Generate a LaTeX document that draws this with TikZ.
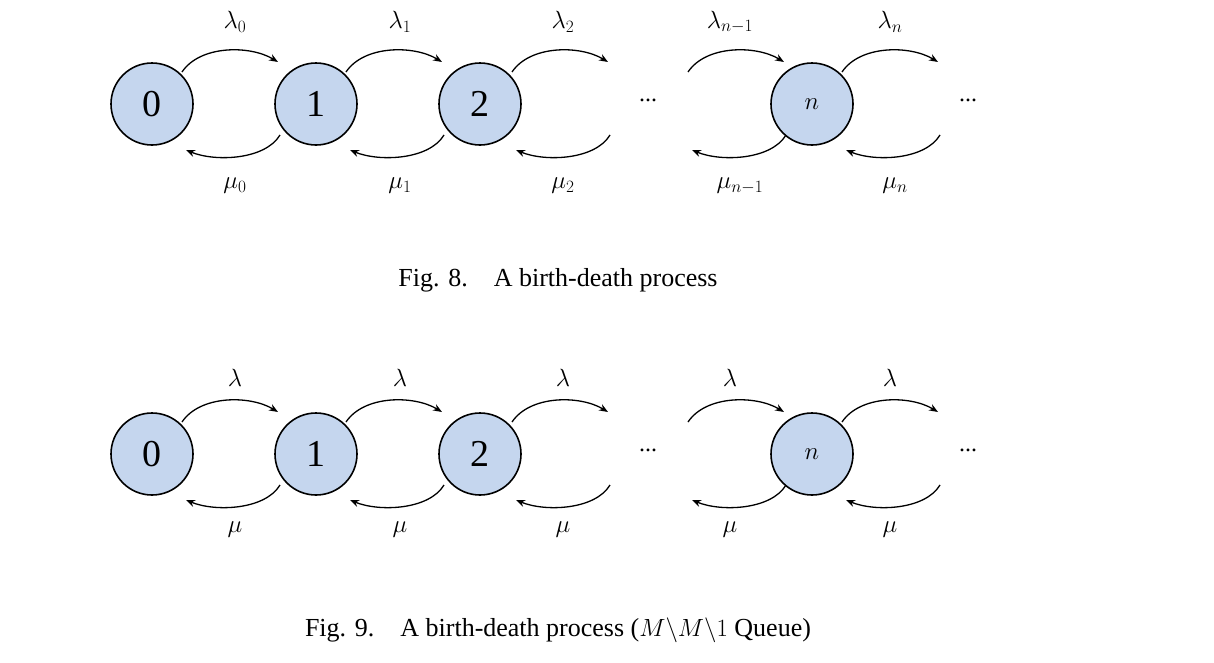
\documentclass[tikz,border=0pt]{standalone}
\usepackage{fontspec}
\setmainfont{Liberation Serif}
\usetikzlibrary{calc,arrows.meta}
\begin{document}
\begin{tikzpicture}[x=1pt,y=-1pt,
  st/.style={circle,draw,line width=1.6pt,fill={rgb,255:red,197;green,214;blue,238},minimum size=82pt,inner sep=0pt,font=\fontsize{38}{40}\selectfont},
  ar/.style={line width=1.3pt,-{Stealth[length=9pt,width=7pt]}},
  lb/.style={font=\fontsize{24}{26}\selectfont},
  figcap/.style={font=\fontsize{26}{28}\selectfont}]
\useasboundingbox (0,0) rectangle (1214,662);
\foreach \oy/\p in {0/a,350/b}{
  \node[st] (\p0) at (152,104+\oy) {0};
  \node[st] (\p1) at (316,104+\oy) {1};
  \node[st] (\p2) at (480,104+\oy) {2};
  \node[st] (\p3) at (812,104+\oy) {$n$};
  \node[lb] (\p d1) at (648,100+\oy) {...};
  \node[lb] (\p d2) at (968,100+\oy) {...};
  \foreach \sx [count=\i] in {182,346,512,688,842}{
    \draw[ar] (\sx,72+\oy) .. controls (\sx+18,45+\oy) and (\sx+68,45+\oy) .. (\sx+96,62+\oy);
    \draw[ar] (\sx+98,135+\oy) .. controls (\sx+83,160+\oy) and (\sx+33,162+\oy) .. (\sx+4,150+\oy);
  }
}
\node[lb] (l0) at (235,22) {$\lambda_0$};
\node[lb] (l1) at (400,22) {$\lambda_1$};
\node[lb] (l2) at (563,22) {$\lambda_2$};
\node[lb] (l3) at (730,22) {$\lambda_{n-1}$};
\node[lb] (l4) at (890,22) {$\lambda_n$};
\node[lb] (m0) at (235,186) {$\mu_0$};
\node[lb] (m1) at (400,186) {$\mu_1$};
\node[lb] (m2) at (563,186) {$\mu_2$};
\node[lb] (m3) at (740,186) {$\mu_{n-1}$};
\node[lb] (m4) at (895,186) {$\mu_n$};
\foreach \x [count=\i] in {235,400,563,730,890}{
  \node[lb] (L\i) at (\x,378) {$\lambda$};
  \node[lb] (M\i) at (\x,530) {$\mu$};
}
\node[figcap] (c8) at (558,280) {Fig. 8.\quad A birth-death process};
\node[figcap] (c9) at (558,630) {Fig. 9.\quad A birth-death process ($M\backslash M\backslash 1$ Queue)};
\end{tikzpicture}
\end{document}
